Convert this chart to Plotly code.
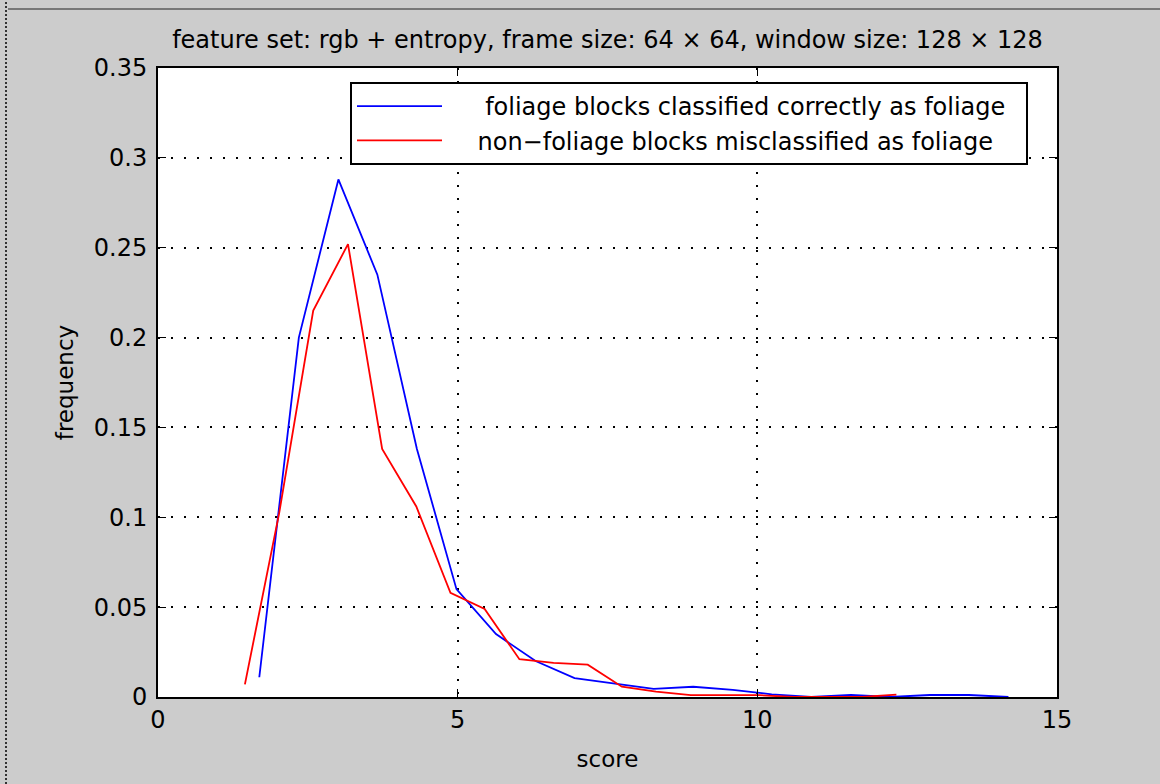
import plotly.graph_objects as go

# ---- data ----
blue_name = "\u00a0\u00a0\u00a0\u00a0\u00a0foliage blocks classified correctly as foliage\u00a0\u00a0"
blue_x = [1.69, 2.35, 3.01, 3.66, 4.32, 4.98, 5.64, 6.30, 6.95, 7.61,
          8.27, 8.93, 9.59, 10.24, 10.90, 11.56, 12.22, 12.88, 13.53, 14.19]
blue_y = [0.011, 0.200, 0.288, 0.235, 0.138, 0.060, 0.035, 0.020, 0.0105, 0.0076,
          0.0045, 0.0057, 0.0040, 0.0015, 0.0, 0.0011, 0.0, 0.0011, 0.0011, 0.0]

red_name = "\u00a0\u00a0\u00a0\u00a0non\u2212foliage blocks misclassified as foliage"
red_x = [1.45, 2.02, 2.59, 3.17, 3.74, 4.31, 4.88, 5.45, 6.03, 6.60,
         7.17, 7.74, 8.31, 8.89, 9.46, 10.03, 10.60, 11.17, 11.75, 12.32]
red_y = [0.007, 0.102, 0.215, 0.252, 0.138, 0.106, 0.058, 0.049, 0.021, 0.019,
         0.018, 0.0057, 0.003, 0.001, 0.001, 0.001, 0.0, 0.0, 0.0, 0.0013]

x_ticks = [0, 5, 10, 15]
x_tick_labels = ["0", "5", "10", "15"]
y_ticks = [0, 0.05, 0.1, 0.15, 0.2, 0.25, 0.3, 0.35]
y_tick_labels = ["0", "0.05", "0.1", "0.15", "0.2", "0.25", "0.3", "0.35"]

title_text = "feature set: rgb + entropy, frame size: 64 \u00d7 64, window size: 128 \u00d7 128"
x_title = "score"
y_title = "frequency"

# ---- layout geometry ----
W, H = 1160, 784
L, R, T, B = 158, 103, 68, 87
PW, PH = W - L - R, H - T - B
FONT = "DejaVu Sans, Verdana, sans-serif"


def px_x(p):
    return (p - L) / PW


def px_y(p):
    return (H - B - p) / PH


fig = go.Figure()
fig.add_trace(go.Scatter(x=blue_x, y=blue_y, mode="lines", name=blue_name,
                         line=dict(color="#0000ff", width=1.8)))
fig.add_trace(go.Scatter(x=red_x, y=red_y, mode="lines", name=red_name,
                         line=dict(color="#ff0000", width=1.8)))

axis_common = dict(
    showline=True, linecolor="black", linewidth=2, mirror="ticks",
    ticks="inside", ticklen=8, tickwidth=1, tickcolor="black",
    showgrid=True, gridcolor="black", gridwidth=1.5, griddash="2px,11px",
    zeroline=False, tickfont=dict(family=FONT, size=24, color="black"),
)

fig.update_layout(
    width=W, height=H,
    margin=dict(l=L, r=R, t=T, b=B, pad=0),
    paper_bgcolor="#cccccc", plot_bgcolor="white",
    title=dict(text=title_text, x=(L + PW / 2) / W, xanchor="center",
               y=1 - 40 / H, yanchor="middle",
               font=dict(family=FONT, size=24, color="black")),
    xaxis=dict(range=[0, 15], tickvals=x_ticks, ticktext=x_tick_labels,
               title=dict(text=x_title, font=dict(family=FONT, size=23, color="black"),
                          standoff=18),
               **axis_common),
    yaxis=dict(range=[0, 0.35], tickvals=y_ticks, ticktext=y_tick_labels,
               ticklabelstandoff=4,
               title=dict(text=y_title, font=dict(family=FONT, size=23, color="black"),
                          standoff=14),
               **axis_common),
    legend=dict(x=px_x(350), y=px_y(82), xanchor="left", yanchor="top",
                bgcolor="white", bordercolor="black", borderwidth=2,
                font=dict(family=FONT, size=24, color="black"),
                itemwidth=85, tracegroupgap=0),
    showlegend=True,
)

# window-frame artefacts of the screenshot
fig.add_shape(type="line", xref="paper", yref="paper",
              x0=px_x(6), x1=px_x(6), y0=px_y(H), y1=px_y(0),
              line=dict(color="#333333", width=2, dash="2px,2px"))
fig.add_shape(type="line", xref="paper", yref="paper",
              x0=px_x(8), x1=px_x(W), y0=px_y(9), y1=px_y(9),
              line=dict(color="#777777", width=2))

fig.write_html("out.html")
